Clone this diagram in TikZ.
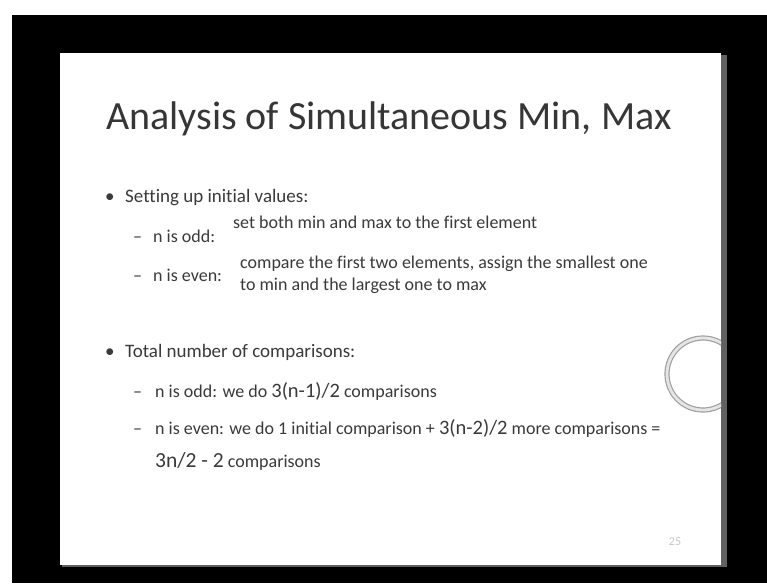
\documentclass[tikz,border=0pt]{standalone}
\usepackage{fontspec}
\setmainfont{Carlito}[Ligatures=NoCommon]
\definecolor{tgray}{HTML}{3A3A3A}
\definecolor{ttl}{HTML}{363636}
\begin{document}
\begin{tikzpicture}[x=1pt,y=-1pt,
  txt/.style={anchor=base west, inner sep=0pt, text=tgray},
  body/.style={txt, font=\fontsize{19}{23}\selectfont},
  sub/.style={txt, font=\fontsize{18}{22}\selectfont}
]
\useasboundingbox (0,0) rectangle (767,583);
% background
\fill[white] (0,0) rectangle (767,583);
\fill[black] (12,15) rectangle (767,583);
% slide with shadow
\fill[black!62] (62,55) rectangle (727,567);
\fill[white] (60,53) rectangle (721,565);
% ring
\begin{scope}
  \clip (60,53) rectangle (721,565);
  \draw[draw=gray!75, line width=1.2pt, double=gray!20, double distance=2.8pt] (703,374) circle (36);
\end{scope}
% title
\node[anchor=base west, inner sep=0pt, text=ttl, font=\fontsize{40}{48}\selectfont] (title) at (106,129) {Analysis of Simultaneous Min, Max};
% first bullet
\node[body] (b1) at (105,202) {•};
\node[body] (t1) at (125,202) {Setting up initial values:};
\node[sub] (d1) at (133,242) {–};
\node[sub] (n1) at (153,242) {n is odd:};
\node[sub] (e1) at (233,228) {set both min and max to the first element};
\node[sub] (d2) at (133,281) {–};
\node[sub] (n2) at (153,281) {n is even:};
\node[sub] (e2) at (240,268) {compare the first two elements, assign the smallest one};
\node[sub] (e3) at (240,290) {to min and the largest one to max};
% second bullet
\node[body] (b2) at (105,357) {•};
\node[body] (t2) at (125,357) {Total number of comparisons:};
\node[sub] (d3) at (133,397) {–};
\node[sub] (c1) at (155,397) {n is odd: we do {\fontsize{20.5}{24}\selectfont 3(n-1)/2} comparisons};
\node[sub] (d4) at (133,434) {–};
\node[sub] (c2) at (155,434) {n is even: we do 1 initial comparison + {\fontsize{20.5}{24}\selectfont 3(n-2)/2} more comparisons =};
\node[sub] (c3) at (155,467) {{\fontsize{21.5}{25}\selectfont 3n/2 - 2} comparisons};
% page number
\node[inner sep=0pt, text=gray!45, font=\fontsize{12}{14}\selectfont] (pg) at (675,542) {25};
\end{tikzpicture}
\end{document}
